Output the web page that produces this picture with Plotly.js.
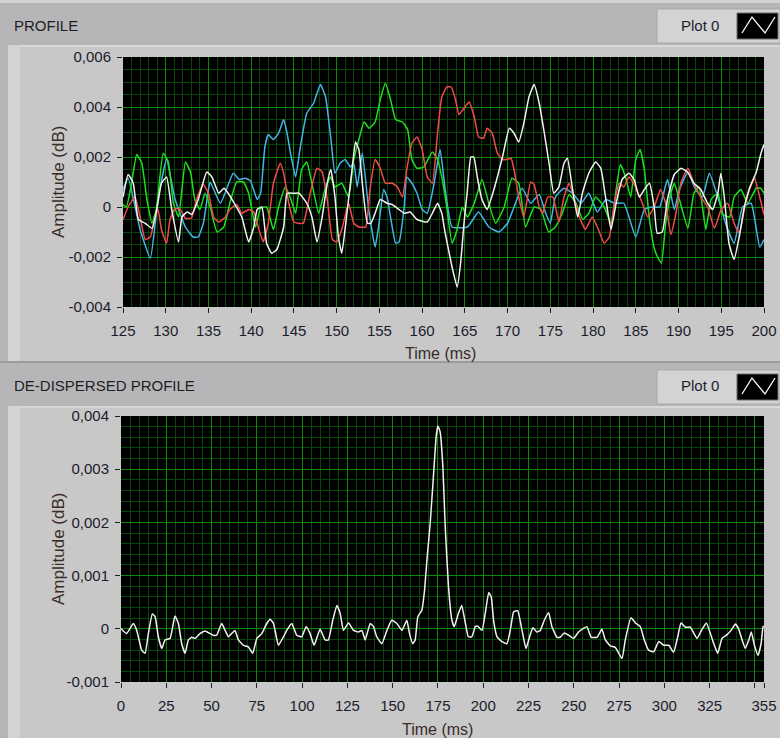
<!DOCTYPE html>
<html>
<head>
<meta charset="utf-8">
<script src="https://cdn.plot.ly/plotly-3.0.1.min.js"></script>
<style>html,body{margin:0;padding:0;background:#b6b6b9;}#chart{width:780px;height:738px;}</style>
</head>
<body>
<div id="chart"></div>
<script>
// ---------- DATA (PROFILE, time in ms, amplitude in dB) ----------
const blueT = [125,125.6,127,128.2,129.1,130.1,131.1,132.3,133.2,133.8,134.4,135,135.2,136.4,137.9,138.6,139.3,139.9,140.7,141.1,141.6,142,142.6,143.2,143.8,144.2,144.6,145.2,145.7,146.5,147.3,148.1,148.7,149.3,149.8,150.4,151,151.6,152,152.4,153,153.75,154.5,154.9,155.5,155.9,156.3,156.9,157.3,157.9,158.2,158.8,159.4,160,160.6,161.4,162.1,162.7,163.5,165.3,166.6,167.8,169,170,170.75,171.7,172.7,173.7,174.45,175,175.6,176.6,177.6,178.6,179.5,180.5,181.5,182.5,183.6,185,186,187,187.8,188.7,189.5,190.1,191.1,192,192.8,193.6,194.6,195.5,196.5,197.5,198.5,199.5,200];
const blueV = [0.0007,0.00115,-0.0009,-0.00205,0.0003,0.0019,0.0003,-0.0008,-0.0012,-0.0012,-0.00065,0.0007,0.001,0.00015,0.00135,0.0011,0.00115,0.00105,0.0003,0.00055,0.0024,0.0029,0.0027,0.00295,0.0035,0.00295,0.00215,0.0012,0.0023,0.00375,0.00415,0.0049,0.0044,0.0028,0.00135,0.00175,0.0019,0.0016,0.00175,0.0008,0.00215,-0.0001,-0.0016,-0.0008,0.0007,0.0004,-0.0004,-0.00145,-0.0014,0,0.0012,0.00095,0.00055,-0.0001,-0.00025,0.00095,0.0023,0.0007,-0.0008,-0.0008,-0.0002,-0.0008,-0.001,-0.00065,0,0.00075,0.00015,0.0005,-0.00025,-0.00065,0.0004,0.00075,0.00055,0.00015,0.00055,-0.0002,0.0003,0.00015,0.00015,-0.0012,-0.0001,0,0,0.0011,-0.0001,0.0007,0.0014,0.0007,0.0004,0.00135,0.0004,-0.00065,-0.00145,0,0.00015,-0.0016,-0.0013];

const greenT = [125,125.4,126,126.6,127.2,127.8,128.4,128.9,129.7,130.3,130.9,131.5,132.3,132.9,133.4,134,134.6,135.2,136,136.8,137.5,138.3,139.1,139.7,140.5,141.1,141.8,142.6,143.2,144,144.6,145.2,145.9,146.5,147.1,147.9,148.7,149.3,149.8,150.6,151.4,152,152.6,153.2,153.8,154.5,155.1,155.7,156.3,156.9,157.7,158.3,158.8,159.4,160.2,161.2,161.8,162.3,162.8,163.5,164.1,164.7,165.3,166.1,167,167.8,168.6,169.6,170.5,171.3,172.1,173.1,173.9,174.8,175.6,176.4,177.2,178,178.8,179.5,180.3,181.3,182.1,182.7,183.2,183.8,184.4,185,185.5,186,186.6,187.2,187.7,188,188.5,189.1,189.5,190.1,191.1,191.8,192.4,193.2,193.8,194.6,195.2,196,196.5,197.3,198.1,199.1,199.6,200];
const greenV = [0.0001,0,0.00095,0.0021,0.00175,0.0003,-0.00065,-0.0001,0.00215,0.0018,0.00015,-0.0004,0.0018,0.0014,0.0003,-0.0001,0.00055,0,-0.001,-0.0008,0.00015,0.001,0.001,0.00055,-0.0008,-0.00005,0,-0.0009,0,0.0008,0.00035,-0.00025,0.0015,0.0018,0.00095,-0.00025,0.0008,0.0012,0.0008,0.00095,0.0004,0.0019,0.0027,0.0034,0.00315,0.0034,0.0043,0.00495,0.0043,0.0035,0.0034,0.0031,0.0019,0.00155,0.0016,0.0022,0.0019,0.0012,0.0002,-0.00145,-0.0009,0,-0.0004,0.00015,0.0011,0.00015,-0.00065,0,0.00115,0.00095,-0.0008,0,-0.0001,-0.001,-0.0008,-0.00025,0.0005,0.00015,-0.0005,-0.00025,0.0004,0,-0.00065,0.0007,0.0017,0.0012,0.0004,0.0019,0.0023,0.0015,-0.0005,-0.0017,-0.0021,-0.00225,-0.00065,0.00055,0.00095,0.0003,-0.00085,0.00055,0.0008,-0.0009,0.0003,0.00055,-0.0003,-0.0004,0.0004,0.0007,0.00015,0.00075,0.00075,0.00055];

const redT = [125,125.6,126.4,127,127.6,128.2,128.75,129.1,129.5,130.1,130.5,131.1,131.7,132.3,133,133.6,134.4,135,135.6,136.2,137,137.5,138.3,138.9,139.7,140.3,140.9,141.4,142,142.6,143.4,143.8,144.4,145,145.5,146.1,146.9,147.7,148.3,148.9,149.5,150,150.6,151.4,152,152.6,153.4,153.9,154.5,155.1,155.7,156.5,157.1,157.7,158.2,158.8,159.4,160,160.6,161.2,161.8,162.3,162.9,163.4,163.9,164.3,164.9,165.5,166.1,166.6,167.2,167.6,168.2,168.8,169.4,169.9,170.4,170.75,171.3,171.9,172.7,173.1,173.7,174.1,174.7,175.3,176,176.6,177.2,177.8,178.4,179.1,179.9,180.5,181.3,181.9,182.5,183.05,183.6,184.2,184.8,185.6,186.4,187.15,187.9,188.5,189.1,189.7,190.3,191.1,191.8,192.6,193.4,194.2,195,195.75,196.5,197.1,197.7,198.3,198.9,199.5,200];
const redV = [-0.0005,0,0.0004,-0.0004,-0.0013,-0.0012,-0.0004,-0.0001,-0.0009,-0.00145,-0.0005,-0.00005,-0.0001,-0.00045,-0.00045,0.0003,0.0009,0.00055,-0.0004,-0.0006,-0.0004,-0.0001,0.0001,-0.00025,-0.0001,-0.0002,-0.0009,-0.0014,-0.00065,0.00095,0.00175,0.00135,0.00015,-0.0006,-0.00065,-0.00065,0.00055,0.00155,0.0014,0.0003,-0.0013,-0.0014,-0.0009,0.00015,-0.00065,-0.0008,-0.0008,0.0007,0.0019,0.00155,0.00095,0.00095,0.0008,0.0004,0.0015,0.00255,0.0028,0.0023,0.0012,0.00095,0.00295,0.0044,0.0048,0.0048,0.0043,0.0037,0.00395,0.0042,0.0036,0.0028,0.00275,0.00315,0.00295,0.00215,0.0019,0.0019,0.00195,0.0015,0.0004,-0.0004,0.001,0.0009,0,-0.00025,0.0004,0.0004,-0.0006,0.0004,0.00095,0.0003,-0.0004,-0.0009,-0.0004,-0.0008,-0.00145,-0.0012,0.00015,0.00095,0.0008,0.0012,0.0009,0.0003,-0.0004,0,0.0007,0.00015,-0.0011,-0.00025,0.001,0.00155,0.00095,0.0004,0,-0.00085,-0.0001,0.00015,-0.00065,-0.00105,-0.0001,0.0007,0.00115,0.0004,-0.0003];

const whiteT = [125,125.6,126.2,126.8,127.6,128.4,129,129.5,130.1,130.7,131.5,131.9,132.5,133.05,133.8,134.8,135.4,136.2,136.8,137.3,138.1,138.9,139.7,140.3,140.7,141.25,141.8,142.4,143,143.8,144.2,145,145.6,146.5,147.1,147.7,148.3,148.9,149.3,149.8,150.2,150.6,151.2,151.8,152.2,152.6,153,153.6,154,154.5,155.1,155.9,156.5,157.3,157.9,158.6,159.4,160.6,161.2,161.8,162.3,162.7,163.5,164.1,164.5,164.9,165.3,165.7,166.05,166.45,167,167.6,168.4,169.4,170.2,170.75,171.3,171.9,172.5,173.1,173.7,174.3,174.85,175.4,176,176.6,177,177.6,178.2,178.75,179.5,180.3,180.9,181.5,182.1,182.7,183.4,184.2,184.8,185.4,186,186.6,187.15,187.5,188.1,188.7,189.5,190.3,191.05,191.8,192.6,193.4,194,194.6,194.95,195.35,195.9,196.5,197.1,197.7,198.3,199.1,199.65,200];
const whiteV = [0.0004,0.0013,0.00095,-0.0005,-0.00065,-0.00085,0,0.00095,0.0012,-0.0001,-0.0014,-0.0004,-0.0002,-0.0003,0.0003,0.0014,0.0012,0.00055,0.00075,0.00055,0.0001,-0.0004,-0.0014,-0.0008,-0.0001,0,-0.00145,-0.00185,-0.0017,-0.0008,0.00055,0.00055,0.00055,0.00015,-0.0004,-0.0014,-0.0004,0.00095,0.0015,0.0004,-0.0012,-0.00185,-0.00025,0.0015,0.0026,0.0023,0.00095,-0.00065,-0.00065,-0.00025,0.0003,0.00015,0.0001,-0.0001,-0.00025,-0.0002,-0.0005,-0.0006,-0.00025,0.00015,-0.00025,-0.00105,-0.0024,-0.0032,-0.00225,-0.00065,0.0007,0.002,0.002,0.0012,0.0003,-0.0001,0.0007,0.002,0.00315,0.00295,0.0026,0.00335,0.0044,0.0049,0.00415,0.00295,0.00175,0.00055,0.0008,0.00175,0.00195,0.0007,-0.0004,0.00055,0.00135,0.0018,0.00155,0.0003,-0.0009,0.00015,0.0011,0.00135,0.0011,0.0004,0.0007,0.00095,0,-0.00105,-0.001,0.0003,0.0013,0.00155,0.0014,0.00095,0.0007,0.00015,-0.0001,0.00055,0.00135,0.0004,-0.00145,-0.0021,-0.0012,0,0.00075,0.0014,0.00215,0.0025];

// ---------- DATA (DE-DISPERSED PROFILE) ----------
const dedT = [0,3.1,6.8,8.7,11.4,13.3,15.1,17.3,18.8,20.6,22.5,24.3,27.1,29.8,31.7,33.5,35.4,37.2,39,40.9,43.6,46.4,49.2,51,52.8,55.6,57.5,59.3,62.9,64.8,67.6,70.3,72.7,75,77.7,80.5,82.3,84.2,86.9,89.7,91.5,94.3,97,99.8,102.2,104.4,106.6,109.9,112.7,114.5,116.9,119.2,121,122.8,125.6,128.4,131.1,133,134.8,137.6,139.4,141.2,144,146.8,149.5,152.3,155.1,157.8,159.3,161.1,162.4,163.9,166.1,167.6,168.9,170.7,172.6,174,174.95,176.2,177.7,179,180.8,182.7,184,186.3,188.1,190,191.8,193.7,195.6,196.9,199.3,201.1,203,204.4,205.7,207.6,210.3,213.1,214.9,216.8,219,221.4,223.6,225.6,227.4,229.6,231.5,233.7,236.1,237.9,240.7,242.5,244.7,247.1,249.9,252.6,255.4,257.2,259.6,262.8,265.5,267.4,270.1,272.9,276.6,278.4,281.6,284,286.7,288.9,291.3,294.1,296.9,299.6,302.4,305.1,307.3,309.2,311.6,314.3,318,320.8,323.2,325.4,327.6,329.5,331.8,334.6,336.8,339.2,341.1,342.9,344.7,346.6,348,349.7,351.7,353.4,354.5,355];
const dedV = [0,-0.00009,0.0001,-0.00003,-0.0004,-0.00046,-0.00009,0.00028,0.00023,-0.00015,-0.00037,-0.00021,-0.00018,0.00024,0.0001,-0.00028,-0.00046,-0.00021,-0.00016,-0.00018,-0.00009,-0.00004,-0.00009,-0.00012,-0.00012,0.0001,-0.00003,-0.00015,-0.00003,-0.00021,-0.00031,-0.00034,-0.00046,-0.00018,-0.00009,0.0001,0.00018,0.0001,-0.00031,-0.00015,-0.00003,0.0001,-0.00012,-0.00015,0.00004,-0.00009,-0.00031,-0.00001,-0.00021,-0.00021,0.00016,0.00044,0.00029,-0.00003,0.00011,-0.00003,-0.00006,-0.00003,-0.00021,0.0001,0.00004,-0.00015,-0.00028,-0.00003,0.00016,0.0001,-0.00003,0.00016,-0.00009,-0.00028,-0.00021,0.00023,0.00035,0.00073,0.00129,0.00198,0.00292,0.00361,0.00381,0.0037,0.00305,0.00192,0.00079,0.00016,0.00004,0.00029,0.00044,0.00013,-0.00015,-0.00015,0.00004,0.00005,-0.00003,0.00029,0.00068,0.0006,0.00016,-0.00015,-0.00024,-0.00028,-0.00003,0.00032,0.00034,-0.00003,-0.00037,-0.00015,0.00002,-0.00006,-0.00003,0.00016,0.0003,0.00004,-0.00016,-0.00016,-0.00008,-0.00012,-0.00018,-0.00006,0.00001,0.00004,-0.00016,-0.00016,-0.00001,-0.00021,-0.00032,-0.00035,-0.00056,-0.00021,0.00021,0.00011,0.00004,-0.00021,-0.0004,-0.00043,-0.00024,-0.00031,-0.00031,-0.00044,-0.00016,0.00011,0.00003,0.00003,-0.00018,-0.00001,0.00011,-0.00009,-0.00031,-0.00046,-0.00018,-0.00011,-0.00003,0.00009,-0.00001,-0.00021,-0.00037,-0.00021,-0.00006,-0.00031,-0.0005,-0.00028,0.00004,0.00005];

// ---------- TICKS ----------
const topXTicks = [125,130,135,140,145,150,155,160,165,170,175,180,185,190,195,200];
const topYTicks = [-0.004,-0.002,0,0.002,0.004,0.006];
const topYLabels = ['-0,004','-0,002','0','0,002','0,004','0,006'];
const botXTicks = [0,25,50,75,100,125,150,175,200,225,250,275,300,325,350,355];
const botXLabels = ['0','25','50','75','100','125','150','175','200','225','250','275','300','325','','355'];
const botYTicks = [-0.001,0,0.001,0.002,0.003,0.004];
const botYLabels = ['-0,001','0','0,001','0,002','0,003','0,004'];

// ---------- LAYOUT HELPERS ----------
const W = 780, H = 738;
const px = x => x / W;
const py = y => 1 - y / H;
const FONT = 'Liberation Sans, Arial, sans-serif';
const MAJOR = '#098a09', MINOR = '#094509';
const tickFont = {family: FONT, size: 15, color: '#1c1c2c'};

function ln(x, y, color, name, xa, ya) {
  return {x: x, y: y, type: 'scatter', mode: 'lines', name: name, xaxis: xa, yaxis: ya,
          line: {color: color, width: 1.5, shape: 'spline', smoothing: 0.4}, hoverinfo: 'skip', showlegend: false};
}

const traces = [
  ln(blueT, blueV, '#45b4e6', 'Plot 1', 'x', 'y'),
  ln(greenT, greenV, '#1ee01e', 'Plot 2', 'x', 'y'),
  ln(redT, redV, '#f24a4a', 'Plot 3', 'x', 'y'),
  ln(whiteT, whiteV, '#f2f2f2', 'Plot 0', 'x', 'y'),
  ln(dedT, dedV, '#f2f2f2', 'Plot 0', 'x2', 'y2')
];

function axisBase() {
  return {showgrid: true, gridcolor: MAJOR, gridwidth: 1, zeroline: false, showline: false,
          ticks: 'outside', ticklen: 5, tickwidth: 1, tickcolor: '#202020',
          tickfont: tickFont, fixedrange: true};
}

const xa1 = Object.assign(axisBase(), {domain: [px(123), px(764)], range: [125, 200], anchor: 'y',
  tickmode: 'array', tickvals: topXTicks, ticktext: topXTicks.map(String), ticklabelstandoff: 5,
  minor: {tickmode: 'linear', tick0: 125, dtick: 1, showgrid: true, gridcolor: MINOR, gridwidth: 1, ticks: ''}});
const ya1 = Object.assign(axisBase(), {domain: [py(307), py(57)], range: [-0.004, 0.006], anchor: 'x',
  tickmode: 'array', tickvals: topYTicks, ticktext: topYLabels, ticklabelstandoff: 3,
  minor: {tickmode: 'linear', tick0: -0.004, dtick: 0.0005, showgrid: true, gridcolor: MINOR, gridwidth: 1, ticks: ''}});
const xa2 = Object.assign(axisBase(), {domain: [px(121), px(764)], range: [0, 355], anchor: 'y2',
  tickmode: 'array', tickvals: botXTicks, ticktext: botXLabels, ticklabelstandoff: 5,
  minor: {tickmode: 'linear', tick0: 0, dtick: 5, showgrid: true, gridcolor: MINOR, gridwidth: 1, ticks: ''}});
const ya2 = Object.assign(axisBase(), {domain: [py(682), py(416)], range: [-0.001, 0.004], anchor: 'x2',
  tickmode: 'array', tickvals: botYTicks, ticktext: botYLabels, ticklabelstandoff: 3,
  minor: {tickmode: 'linear', tick0: -0.001, dtick: 0.0002, showgrid: true, gridcolor: MINOR, gridwidth: 1, ticks: ''}});

function rect(x0, y0, x1, y1, fill, line) {
  return {type: 'rect', xref: 'paper', yref: 'paper', x0: px(x0), x1: px(x1), y0: py(y1), y1: py(y0),
          fillcolor: fill, line: line ? {color: line, width: 1} : {width: 0}, layer: 'below'};
}
function legendShapes(dy) {
  return [
    rect(657, 9 + dy, 780, 43 + dy, '#d3d3d3', '#a9a9a9'),
    Object.assign(rect(737, 13 + dy, 778, 39 + dy, '#000000', '#6a6a6a'), {layer: 'above'}),
    {type: 'path', xref: 'paper', yref: 'paper', layer: 'above',
     path: 'M ' + px(742) + ' ' + py(33 + dy) + ' L ' + px(752) + ' ' + py(17 + dy) + ' L ' + px(765) + ' ' + py(33 + dy) + ' L ' + px(775) + ' ' + py(17 + dy),
     line: {color: '#ffffff', width: 1.3}}
  ];
}

const shapes = [
  rect(0, 0, 780, 3, '#d2d2d4'),
  rect(8, 45, 780, 361, '#c8c8c8'),
  rect(8, 45, 780, 47, '#d8d8d8'),
  rect(8, 45, 20, 361, '#d3d3d3'),
  rect(0, 361, 780, 363, '#9c9c9c'),
  rect(8, 406, 780, 738, '#c8c8c8'),
  rect(8, 406, 780, 408, '#d8d8d8'),
  rect(8, 406, 20, 738, '#d3d3d3'),
  // plot-area backgrounds (black), drawn beneath the grid
  rect(123, 57, 764, 307, '#000000'),
  rect(121, 416, 764, 682, '#000000')
].concat(legendShapes(0), legendShapes(361));

function ann(text, x, y, opts) {
  return Object.assign({text: text, xref: 'paper', yref: 'paper', x: px(x), y: py(y), showarrow: false,
    font: {family: FONT, size: 15, color: '#1e1e1e'}, xanchor: 'left', yanchor: 'middle'}, opts || {});
}
const ampFont = {family: FONT, size: 17, color: '#3a2c28'};
const timeFont = {family: FONT, size: 16, color: '#3a2c28'};
const annotations = [
  ann('PROFILE', 12, 25),
  ann('DE-DISPERSED PROFILE', 12, 386),
  ann('Plot 0', 700, 25, {xanchor: 'center', font: {family: FONT, size: 15, color: '#1c1c30'}}),
  ann('Plot 0', 700, 385, {xanchor: 'center', font: {family: FONT, size: 15, color: '#1c1c30'}}),
  ann('Amplitude (dB)', 58, 182, {xanchor: 'center', textangle: -90, font: ampFont}),
  ann('Amplitude (dB)', 58, 549, {xanchor: 'center', textangle: -90, font: ampFont}),
  ann('Time (ms)', 440, 353, {xanchor: 'center', font: timeFont}),
  ann('Time (ms)', 437, 729, {xanchor: 'center', font: timeFont})
];

const layout = {
  width: W, height: H, autosize: false,
  margin: {l: 0, r: 0, t: 0, b: 0, pad: 0},
  paper_bgcolor: '#b6b6b9', plot_bgcolor: '#000000',
  showlegend: false,
  xaxis: xa1, yaxis: ya1, xaxis2: xa2, yaxis2: ya2,
  shapes: shapes, annotations: annotations
};

Plotly.newPlot('chart', traces, layout, {displayModeBar: false, staticPlot: true});
</script>
</body>
</html>
